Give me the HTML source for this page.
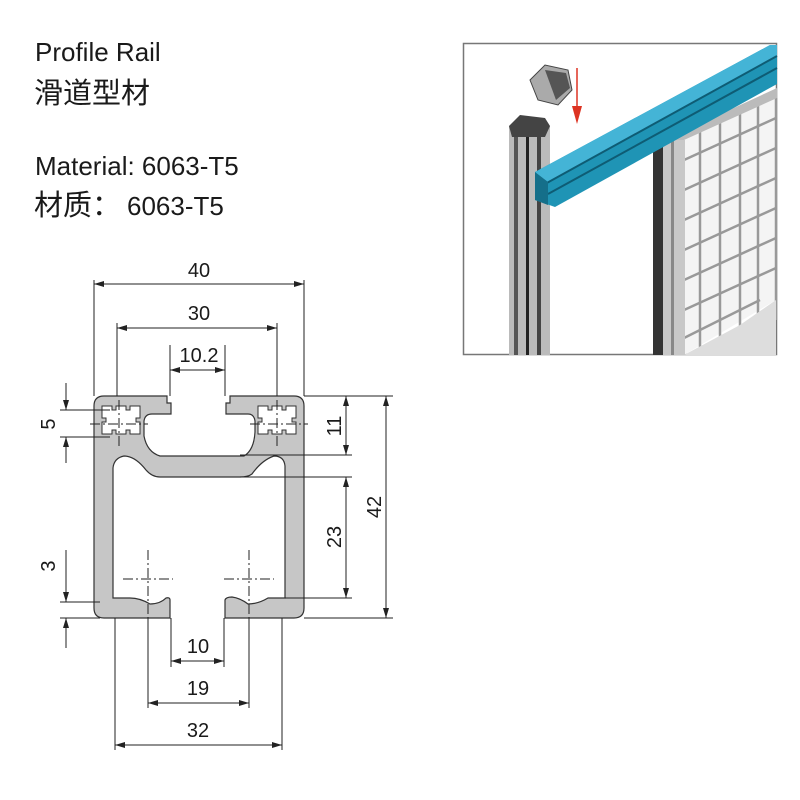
<!DOCTYPE html>
<html><head><meta charset="utf-8"><style>
body{margin:0;background:#fff;width:800px;height:800px;overflow:hidden}
svg{display:block}
text{font-family:"Liberation Sans","Noto Sans CJK SC",sans-serif;fill:#1a1a1a}
</style></head><body>
<svg width="800" height="800" viewBox="0 0 800 800" xmlns="http://www.w3.org/2000/svg">
<defs>
<marker id="a" viewBox="0 0 10 6" refX="10" refY="3" markerWidth="10" markerHeight="6" orient="auto-start-reverse" markerUnits="userSpaceOnUse"><path d="M0,0 L10,3 L0,6 Z" fill="#222"/></marker>
</defs>
<g font-size="26">
<text x="35" y="61">Profile Rail</text>
<text x="35" y="175">Material: 6063-T5</text>
</g>
<g font-size="29">
<text x="34" y="103">滑道型材</text>
<text x="34" y="215">材质：<tspan font-size="26" dx="6">6063-T5</tspan></text>
</g>

<!-- profile -->
<path d="M104,396 H167 V403 H171 V414 H152 Q145,414 144,421 V436 Q147,452 160,456 H244 Q254,450 255,432 V421 Q254,414 248,414 H226 V403 H230 V396 H294 Q304,396 304,406 V608 Q304,618 294,618 H225 V600 Q226,597 232,597 Q240,598 248,604 Q258,604 268,598 H285 V466 Q284,456 274,456 Q262,460 252,474 Q248,477 240,477 H160 Q152,477 146,470 Q135,456 124,456 Q114,458 113,468 V598 H130 Q140,598 150,604 Q160,604 166,598 Q170,597 170,600 V618 H104 Q94,618 94,608 V406 Q94,396 104,396 Z" fill="#c6c6c6" stroke="#333" stroke-width="1.2"/>
<g fill="#fff" stroke="#333" stroke-width="1">
<path d="M102,406 h10 v4 h4 v-4 h10 v4 h4 v-4 h10 v12 h-4 v4 h4 v12 h-10 v-4 h-4 v4 h-10 v-4 h-4 v4 h-10 v-12 h4 v-4 h-4 Z"/>
<path d="M258,406 h10 v4 h4 v-4 h10 v4 h4 v-4 h10 v12 h-4 v4 h4 v12 h-10 v-4 h-4 v4 h-10 v-4 h-4 v4 h-10 v-12 h4 v-4 h-4 Z"/>
</g>
<g stroke="#222" stroke-width="1" fill="none">
<path d="M90,424 h58 M119,400 v48 M250,424 h58 M277,400 v48" stroke-dasharray="10,3,2,3"/>
<path d="M123,579 h50 M148,550 v70 M224,579 h50 M249,550 v70" stroke-dasharray="10,3,2,3"/>
<path d="M94,396 V280 M304,396 V280 M117,396 V323 M277,396 V323 M170,396 V345 M225,396 V345"/>
<path d="M94,284 H304" marker-start="url(#a)" marker-end="url(#a)"/>
<path d="M117,328 H277" marker-start="url(#a)" marker-end="url(#a)"/>
<path d="M170,370 H225" marker-start="url(#a)" marker-end="url(#a)"/>
<path d="M304,396 H393 M304,618 H393 M240,455 H352 M240,477 H352 M285,598 H352"/>
<path d="M386,396 V618" marker-start="url(#a)" marker-end="url(#a)"/>
<path d="M346,396 V455" marker-start="url(#a)" marker-end="url(#a)"/>
<path d="M346,477 V598" marker-start="url(#a)" marker-end="url(#a)"/>
<path d="M60,410 H110 M60,437 H110 M60,602 H100 M60,618 H100"/>
<path d="M66,383 V410" marker-end="url(#a)"/>
<path d="M66,463 V437" marker-end="url(#a)"/>
<path d="M66,550 V602" marker-end="url(#a)"/>
<path d="M66,648 V618" marker-end="url(#a)"/>
<path d="M171,618 V667 M224,618 V667 M148,618 V708 M249,618 V708 M115,618 V750 M282,618 V750"/>
<path d="M171,661 H224" marker-start="url(#a)" marker-end="url(#a)"/>
<path d="M148,703 H249" marker-start="url(#a)" marker-end="url(#a)"/>
<path d="M115,745 H282" marker-start="url(#a)" marker-end="url(#a)"/>
</g>
<g font-size="20" text-anchor="middle">
<text x="199" y="277">40</text>
<text x="199" y="320">30</text>
<text x="199" y="362">10.2</text>
<text x="198" y="653">10</text>
<text x="198" y="695">19</text>
<text x="198" y="737">32</text>
<text transform="translate(341,426) rotate(-90)">11</text>
<text transform="translate(341,537) rotate(-90)">23</text>
<text transform="translate(381,507) rotate(-90)">42</text>
<text transform="translate(55,424) rotate(-90)">5</text>
<text transform="translate(55,566) rotate(-90)">3</text>
</g>

<!-- photo -->
<rect x="463.5" y="43.5" width="313" height="311" fill="#fff" stroke="#777" stroke-width="1.5"/>
<g>
<polygon points="684,135 776,92 776,300 684,355" fill="#f4f4f4"/>
<g stroke="#999" stroke-width="2.5">
<path d="M700,130 V355 M720,122 V355 M740,114 V340 M758,106 V330 M776,98 V320"/>
<path d="M684,160 L776,118 M684,190 L776,148 M684,220 L776,178 M684,250 L776,208 M684,280 L776,238 M684,310 L776,268 M684,338 L760,300"/>
</g>
<polygon points="740,325 776,300 776,355 684,355" fill="#ddd"/>
<polygon points="660,142 777,88 777,98 684,140" fill="#bbb"/>
<rect x="653" y="142" width="10" height="213" fill="#333"/>
<rect x="663" y="140" width="22" height="215" fill="#c8c8c8"/>
<rect x="671" y="140" width="3" height="215" fill="#888"/>
<rect x="509" y="126" width="41" height="229" fill="#bbb"/>
<rect x="514" y="126" width="4" height="229" fill="#555"/>
<rect x="526" y="126" width="3" height="229" fill="#222"/>
<rect x="537" y="126" width="4" height="229" fill="#444"/>
<polygon points="509,126 520,115 545,118 550,126 545,137 512,137" fill="#444"/>
<polygon points="535,172 770,45 777,45 777,84 555,207 535,200" fill="#1f94b5"/>
<polygon points="535,172 770,45 777,45 777,56 545,184" fill="#44b4d6"/>
<path d="M545,184 L777,56 M548,194 L777,68" stroke="#0e5c74" stroke-width="2"/>
<polygon points="535,172 548,182 548,205 535,200" fill="#156f8a"/>
<polygon points="530,80 545,65 568,70 572,90 558,105 538,100" fill="#aaa" stroke="#444"/>
<polygon points="545,70 566,73 570,88 556,100" fill="#555"/>
<path d="M577,68 V108" stroke="#d32" stroke-width="1.5"/>
<polygon points="572,106 582,106 577,124" fill="#d32"/>
</g>
</svg>
</body></html>
